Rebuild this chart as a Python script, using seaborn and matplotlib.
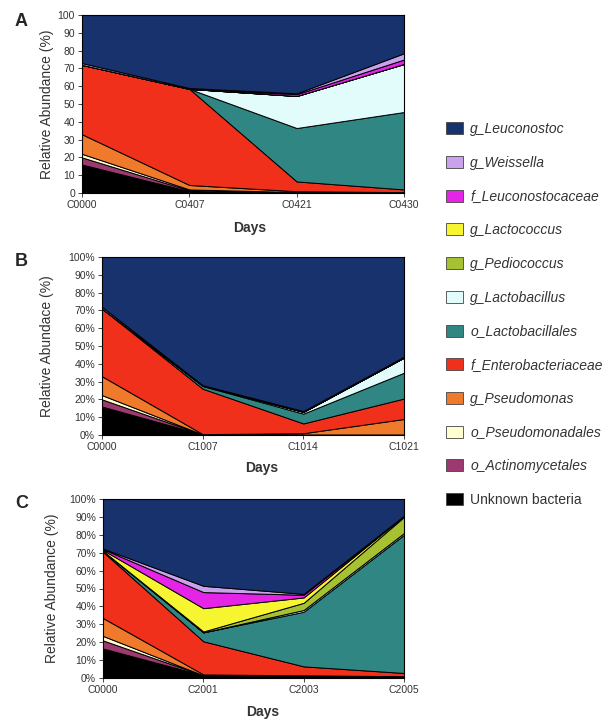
import matplotlib
matplotlib.use("Agg")
import matplotlib.pyplot as plt
import seaborn as sns
from matplotlib.patches import Patch

# stacking order, bottom to top
taxa = ["Unknown bacteria", "o_Actinomycetales", "o_Pseudomonadales", "g_Pseudomonas",
        "f_Enterobacteriaceae", "o_Lactobacillales", "g_Lactobacillus", "g_Pediococcus",
        "g_Lactococcus", "f_Leuconostocaceae", "g_Weissella", "g_Leuconostoc"]

colors = ["#000000", "#9c3a70", "#ffffd2", "#f07a2c", "#f0301a", "#2f8683", "#e2fcfc",
          "#a6c232", "#f6f530", "#e424e6", "#c8a2ea", "#17326c"]

days_a = ["C0000", "C0407", "C0421", "C0430"]
days_b = ["C0000", "C1007", "C1014", "C1021"]
days_c = ["C0000", "C2001", "C2003", "C2005"]

# relative abundance (%), one row per taxon in stacking order
values_a = [
    [16, 1, 0.3, 0.3],
    [4, 0.5, 0, 0],
    [2, 0.5, 0.2, 0],
    [11, 2.5, 0.5, 0.2],
    [39, 54, 5.5, 1.5],
    [0, 0, 30, 43.5],
    [0, 0, 18, 27],
    [0, 0, 0, 0],
    [0, 0, 0, 0],
    [0, 0, 1, 2.5],
    [1, 0.5, 0.5, 3.5],
    [27, 41, 44, 21.5],
]

values_b = [
    [16, 0.3, 0.3, 0.3],
    [4, 0, 0, 0],
    [2.4, 0, 0, 0],
    [10.6, 0.2, 0.7, 8.7],
    [38, 25.5, 5.5, 11.5],
    [0, 1.5, 5.5, 14.5],
    [0, 0.3, 1, 8.5],
    [0, 0, 0, 0],
    [0, 0, 0, 0],
    [0, 0, 0, 0],
    [1, 0.2, 0.5, 0.5],
    [28, 72, 86.5, 56],
]

values_c = [
    [16.5, 1.5, 1, 1],
    [4.5, 0, 0, 0],
    [2.5, 0, 0, 0],
    [10, 0.5, 0.5, 0],
    [37, 18.5, 5, 1.8],
    [0.5, 5, 30.5, 77.2],
    [0, 0, 1, 1],
    [0, 0.5, 4, 9],
    [0.5, 13, 3, 0.5],
    [0.5, 9, 1.5, 0],
    [0.3, 3.5, 0.5, 0.2],
    [27.7, 48.5, 53, 9.3],
]

sns.set_theme(style="white")
plt.rcParams['font.family'] = ['Liberation Sans', 'DejaVu Sans']

fig = plt.figure(figsize=(6.16, 7.19), dpi=100)
W, H = 616, 719


def px_axes(left, top, right, bottom):
    return fig.add_axes([left / W, (H - bottom) / H, (right - left) / W, (bottom - top) / H])


panels = [
    ("A", px_axes(82, 15, 404, 193), days_a, values_a, False, "Relative Abundance (%)",
     (-0.087, 0.5), (0.52, -0.16), (21, 21)),
    ("B", px_axes(102, 257, 404, 435), days_b, values_b, True, "Relative Abundace (%)",
     (-0.16, 0.5), (0.53, -0.148), (21, 262)),
    ("C", px_axes(103, 499, 404, 678), days_c, values_c, True, "Relative Abundance (%)",
     (-0.145, 0.5), (0.53, -0.152), (22, 504)),
]

for letter, ax, days, vals, pct, ylab, ylc, xlc, lpos in panels:
    x = list(range(len(days)))
    ax.stackplot(x, vals, colors=colors, edgecolor="black", linewidth=0.7)
    ax.set_xlim(0, len(days) - 1)
    ax.set_ylim(0, 100)
    ax.set_xticks(x)
    ax.set_xticklabels(days, fontsize=7.5, color="#333333")
    ax.set_yticks(range(0, 101, 10))
    if pct:
        ax.set_yticklabels([f"{v}%" for v in range(0, 101, 10)], fontsize=7.5, color="#333333")
    else:
        ax.set_yticklabels([str(v) for v in range(0, 101, 10)], fontsize=7.5, color="#333333")
    ax.tick_params(axis="both", length=3, width=0.6, pad=2, direction="out",
                   bottom=True, left=True)
    for s in ax.spines.values():
        s.set_linewidth(0.8)
        s.set_color("black")
    ax.set_ylabel(ylab, fontsize=10, color="#333333")
    ax.yaxis.set_label_coords(*ylc)
    ax.set_xlabel("Days", fontsize=10, fontweight="bold", color="#333333")
    ax.xaxis.set_label_coords(*xlc)
    fig.text(lpos[0] / W, (H - lpos[1]) / H, letter, fontsize=13, fontweight="bold",
             ha="center", va="center")

# legend, top to bottom is reverse of stacking order
handles = [Patch(facecolor=c, edgecolor="#444444", linewidth=0.6)
           for c in colors[::-1]]
labels = taxa[::-1]
leg = fig.legend(handles, labels, loc="upper left",
                 bbox_to_anchor=(446 / W, (H - 122) / H), frameon=False,
                 fontsize=10, labelspacing=1.42, handlelength=1.25, handleheight=0.95,
                 handletextpad=0.5, borderpad=0, borderaxespad=0)
for t in leg.get_texts():
    t.set_color("#333333")
    if t.get_text() != "Unknown bacteria":
        t.set_fontstyle("italic")

fig.savefig("out.png", dpi=100, facecolor="white")
